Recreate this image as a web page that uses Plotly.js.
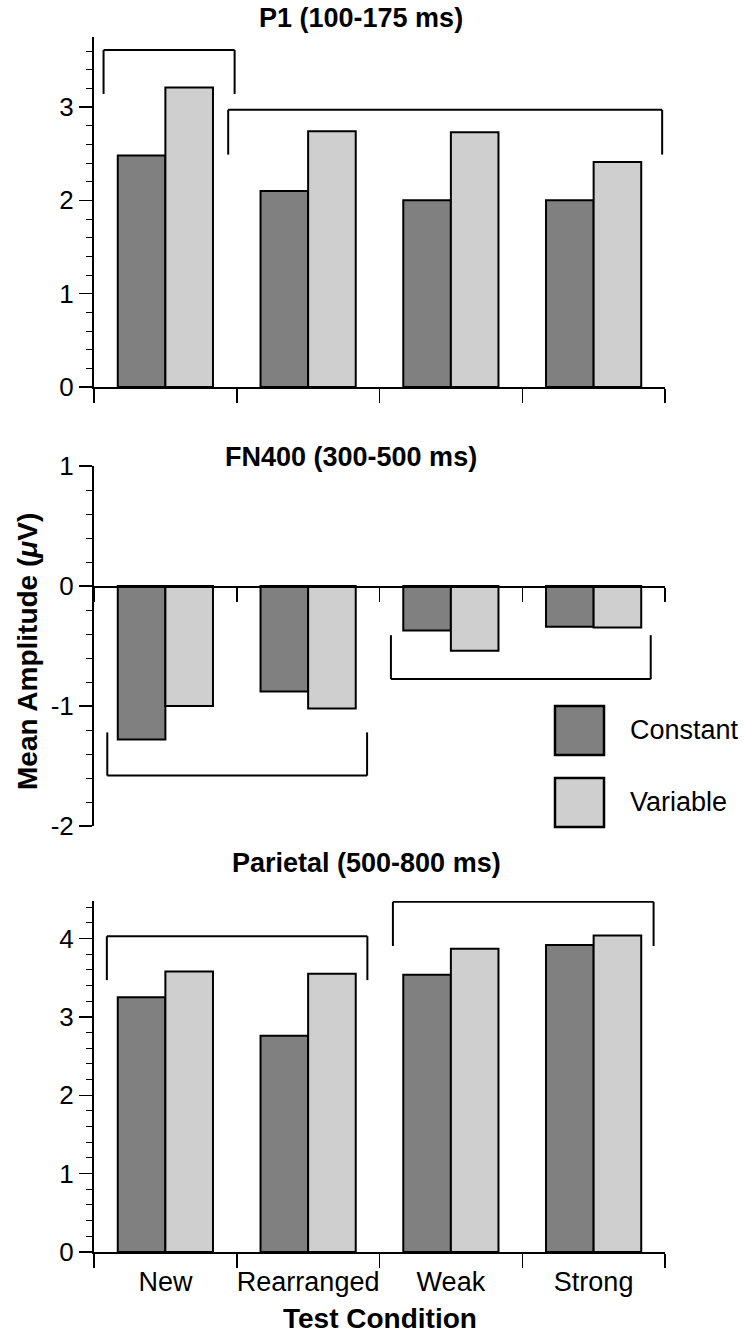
<!DOCTYPE html>
<html>
<head>
<meta charset="utf-8">
<script src="https://cdn.plot.ly/plotly-3.0.1.min.js"></script>
<style>html,body{margin:0;padding:0;background:#fff;}#chart{width:748px;height:1334px;}</style>
</head>
<body>
<div id="chart"></div>
<script>
// ---- data ----
const categories = ['New', 'Rearranged', 'Weak', 'Strong'];
const seriesNames = ['Constant', 'Variable'];
const p1Constant = [2.48, 2.10, 2.00, 2.00];
const p1Variable = [3.21, 2.74, 2.73, 2.41];
const fnConstant = [-1.28, -0.88, -0.37, -0.34];
const fnVariable = [-1.00, -1.02, -0.54, -0.345];
const parConstant = [3.25, 2.76, 3.54, 3.92];
const parVariable = [3.58, 3.55, 3.87, 4.04];
const panelTitles = ['P1 (100-175 ms)', 'FN400 (300-500 ms)', 'Parietal (500-800 ms)'];
const p1TickVals = [0, 1, 2, 3];
const p1TickText = ['0', '1', '2', '3'];
const fnTickVals = [-2, -1, 0, 1];
const fnTickText = ['-2', '-1', '0', '1'];
const parTickVals = [0, 1, 2, 3, 4];
const parTickText = ['0', '1', '2', '3', '4'];
// brackets: [start, end, bar level, leg end] in data units
const p1Brackets = [[-0.433, 0.485, 3.61, 3.14], [0.44, 3.48, 2.97, 2.49]];
const fnBrackets = [[-0.407, 1.413, -1.58, -1.22], [1.58, 3.40, -0.776, -0.41]];
const parBrackets = [[-0.41, 1.415, 4.03, 3.47], [1.594, 3.42, 4.47, 3.906]];

// ---- styling ----
const W = 748, H = 1334;
const FONT = 'Liberation Sans, Arial, Helvetica, sans-serif';
const colConst = '#808080', colVar = '#cfcfcf';
const py = p => 1 - p / H;
const px = p => p / W;
const xDom = [px(94), px(665)];

function barTrace(y, name, color, xa, ya) {
  return {
    type: 'bar', x: categories, y: y, name: name, xaxis: xa, yaxis: ya,
    marker: {color: color, line: {color: '#000', width: 2}},
    hoverinfo: 'x+y+name'
  };
}
const data = [
  barTrace(p1Constant, seriesNames[0], colConst, 'x', 'y'),
  barTrace(p1Variable, seriesNames[1], colVar, 'x', 'y'),
  barTrace(fnConstant, seriesNames[0], colConst, 'x2', 'y2'),
  barTrace(fnVariable, seriesNames[1], colVar, 'x2', 'y2'),
  barTrace(parConstant, seriesNames[0], colConst, 'x3', 'y3'),
  barTrace(parVariable, seriesNames[1], colVar, 'x3', 'y3')
];

function xAxis(anchor, extra) {
  return Object.assign({
    domain: xDom, anchor: anchor, type: 'category', categoryorder: 'array', categoryarray: categories,
    range: [-0.5, 3.5], tickson: 'boundaries', ticks: 'outside', ticklen: 14, tickwidth: 1.5,
    tickcolor: '#000', showline: true, linecolor: '#000', linewidth: 2, tickangle: 0,
    showgrid: false, zeroline: false, showticklabels: false, fixedrange: true
  }, extra || {});
}
function yAxis(anchor, dom, range, tv, tt) {
  return {
    domain: dom, anchor: anchor, range: range, tickmode: 'array', tickvals: tv, ticktext: tt,
    ticks: 'outside', ticklen: 13, tickwidth: 1.5, tickcolor: '#000',
    minor: {tick0: 0, dtick: 0.2, ticks: 'outside', ticklen: 6, tickwidth: 1, tickcolor: '#000', showgrid: false},
    showline: true, linecolor: '#000', linewidth: 2, showgrid: false, zeroline: false,
    tickfont: {family: FONT, size: 26, color: '#000'}, fixedrange: true
  };
}

const shapes = [];
function addBrackets(list, xr, yr) {
  list.forEach(b => {
    const [x0, x1, bar, leg] = b;
    const ln = {color: '#000', width: 2};
    shapes.push({type: 'line', xref: xr, yref: yr, x0: x0, x1: x0, y0: leg, y1: bar, line: ln});
    shapes.push({type: 'line', xref: xr, yref: yr, x0: x0, x1: x1, y0: bar, y1: bar, line: ln});
    shapes.push({type: 'line', xref: xr, yref: yr, x0: x1, x1: x1, y0: bar, y1: leg, line: ln});
  });
}
addBrackets(p1Brackets, 'x', 'y');
addBrackets(fnBrackets, 'x2', 'y2');
addBrackets(parBrackets, 'x3', 'y3');

// legend swatches (paper coords)
const legendColors = [colConst, colVar];
const legendTop = [706, 778];
legendColors.forEach((c, i) => {
  shapes.push({type: 'rect', xref: 'paper', yref: 'paper',
    x0: px(555), x1: px(604), y0: py(legendTop[i] + 49), y1: py(legendTop[i]),
    fillcolor: c, line: {color: '#000', width: 2.5}});
});

const annotations = [];
const titlePos = [[361, 18], [351, 457], [366, 863]];
panelTitles.forEach((t, i) => {
  annotations.push({text: '<b>' + t + '</b>', xref: 'paper', yref: 'paper',
    x: px(titlePos[i][0]), y: py(titlePos[i][1]), xanchor: 'center', yanchor: 'middle',
    showarrow: false, font: {family: FONT, size: 27, color: '#000'}});
});
seriesNames.forEach((n, i) => {
  annotations.push({text: n, xref: 'paper', yref: 'paper',
    x: px(628), y: py(legendTop[i] + 24), xanchor: 'left', yanchor: 'middle',
    showarrow: false, font: {family: FONT, size: 27, color: '#000'}});
});
annotations.push({text: '<b>Mean Amplitude (<i>μ</i>V)</b>', xref: 'paper', yref: 'paper',
  x: px(27), y: py(652), xanchor: 'center', yanchor: 'middle', textangle: -90,
  showarrow: false, font: {family: FONT, size: 28, color: '#000'}});
annotations.push({text: '<b>Test Condition</b>', xref: 'paper', yref: 'paper',
  x: px(380), y: py(1318), xanchor: 'center', yanchor: 'middle',
  showarrow: false, font: {family: FONT, size: 28, color: '#000'}});

const layout = {
  width: W, height: H, margin: {l: 0, r: 0, t: 0, b: 0, pad: 0},
  paper_bgcolor: '#fff', plot_bgcolor: 'rgba(0,0,0,0)', showlegend: false,
  barmode: 'group', bargap: 0.333, bargroupgap: 0,
  font: {family: FONT, color: '#000'},
  xaxis: xAxis('y'),
  yaxis: yAxis('x', [py(387), py(37)], [0, 3.75], p1TickVals, p1TickText),
  xaxis2: xAxis('free', {position: py(586.5)}),
  yaxis2: yAxis('x2', [py(826), py(466)], [-2, 1], fnTickVals, fnTickText),
  xaxis3: xAxis('y3', {showticklabels: true, tickangle: 0, ticklabelstandoff: 5,
    tickfont: {family: FONT, size: 27, color: '#000'}}),
  yaxis3: yAxis('x3', [py(1252), py(901)], [0, 4.48], parTickVals, parTickText),
  shapes: shapes, annotations: annotations
};

Plotly.newPlot('chart', data, layout, {displayModeBar: false, staticPlot: true});
</script>
</body>
</html>
